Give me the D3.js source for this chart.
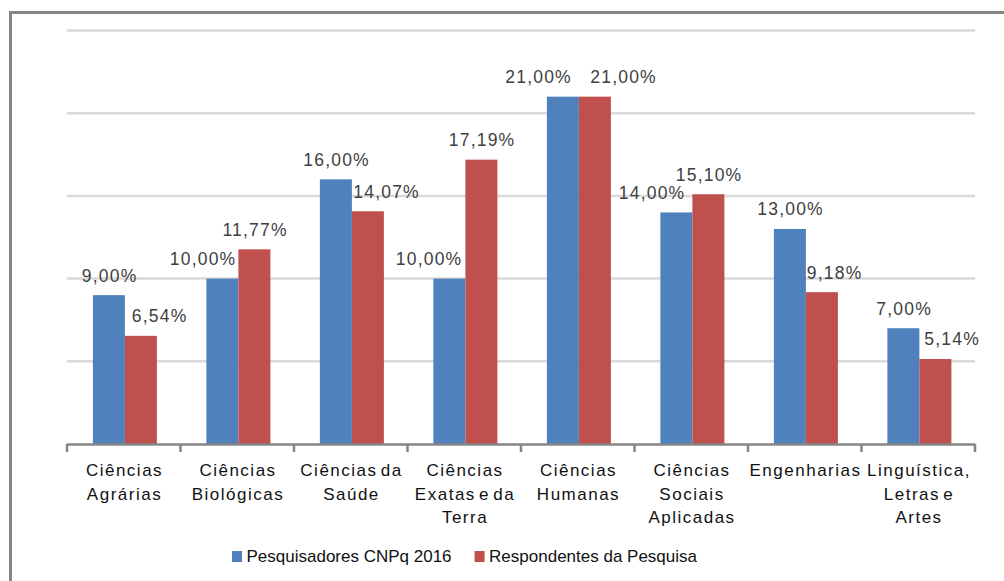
<!DOCTYPE html>
<meta charset="utf-8">
<head>
  <title>Pesquisadores por área</title>
  <style>
    body { margin: 0; background: #fff; }
    svg { display: block; font-family: "Liberation Sans", Arial, sans-serif; }
  </style>
</head>
<body>
<div id="my_dataviz"></div>
<script src="https://d3js.org/d3.v7.min.js"></script>
<script>

// data
var categories = [
  ["Ciências", "Agrárias"],
  ["Ciências", "Biológicas"],
  ["Ciências da", "Saúde"],
  ["Ciências", "Exatas e da", "Terra"],
  ["Ciências", "Humanas"],
  ["Ciências", "Sociais", "Aplicadas"],
  ["Engenharias"],
  ["Linguística,", "Letras e", "Artes"]
];
var seriesNames = ["Pesquisadores CNPq 2016", "Respondentes da Pesquisa"];
var pesquisadores = [9.00, 10.00, 16.00, 10.00, 21.00, 14.00, 13.00, 7.00];
var respondentes  = [6.54, 11.77, 14.07, 17.19, 21.00, 15.10, 9.18, 5.14];
var gridTicks = [5, 10, 15, 20, 25];

// label nudges (px) so labels don't collide, like in the original
var nudgeBlue = [0, -20, 0, -21, -25, -25, 0, 0];
var nudgeRed  = [18, 0, 18, 0, 28, 0, 12, 16];

var colors = ["#4f81bd", "#c0504d"];

var width = 1004, height = 581;
var plotLeft = 67, plotRight = 975, plotTop = 30.5, plotBottom = 444;

var svg = d3.select("#my_dataviz")
  .append("svg")
    .attr("width", width)
    .attr("height", height);

// outer frame
svg.append("rect")
    .attr("x", 10.5).attr("y", 12.5)
    .attr("width", 1010).attr("height", 600)
    .style("fill", "none")
    .style("stroke", "#868686")
    .style("stroke-width", "3px");

var keys = categories.map(function(d, i) { return i; });

var x = d3.scaleBand()
    .domain(keys)
    .range([plotLeft, plotRight])
    .padding(0);

var step = x.bandwidth();
var xs = d3.scaleBand()
    .domain([0, 1])
    .range([step * 0.228, step * 0.792]);

var y = d3.scaleLinear()
    .domain([0, 25])
    .range([plotBottom, plotTop]);

// gridlines
svg.append("g")
  .selectAll("line")
  .data(gridTicks)
  .enter().append("line")
    .attr("x1", plotLeft).attr("x2", plotRight)
    .attr("y1", function(d) { return y(d); })
    .attr("y2", function(d) { return y(d); })
    .style("stroke", "#d9d9d9")
    .style("stroke-width", "2.5px");

var rows = keys.map(function(i) {
  return [
    {cat: i, s: 0, v: pesquisadores[i], nudge: nudgeBlue[i]},
    {cat: i, s: 1, v: respondentes[i], nudge: nudgeRed[i]}
  ];
});
var flat = d3.merge(rows);

// bars
svg.append("g")
  .selectAll("rect")
  .data(flat)
  .enter().append("rect")
    .attr("x", function(d) { return x(d.cat) + xs(d.s); })
    .attr("width", xs.bandwidth())
    .attr("y", function(d) { return y(d.v); })
    .attr("height", function(d) { return y(0) - y(d.v); })
    .style("fill", function(d) { return colors[d.s]; });

// axis
svg.append("line")
    .attr("x1", plotLeft).attr("x2", plotRight)
    .attr("y1", plotBottom + 0.5).attr("y2", plotBottom + 0.5)
    .style("stroke", "#868686")
    .style("stroke-width", "2.5px");

svg.append("g")
  .selectAll("line")
  .data(d3.range(categories.length + 1))
  .enter().append("line")
    .attr("x1", function(d) { return plotLeft + d * step; })
    .attr("x2", function(d) { return plotLeft + d * step; })
    .attr("y1", plotBottom).attr("y2", plotBottom + 8)
    .style("stroke", "#868686")
    .style("stroke-width", "2.5px");

// value labels
var fmt = function(v) { return v.toFixed(2).replace(".", ",") + "%"; };
svg.append("g")
  .selectAll("text")
  .data(flat)
  .enter().append("text")
    .attr("x", function(d) { return x(d.cat) + xs(d.s) + xs.bandwidth() / 2 + d.nudge + 0.7; })
    .attr("y", function(d) { return y(d.v) - 13.5; })
    .attr("text-anchor", "middle")
    .style("font-size", "17.5px")
    .style("letter-spacing", "1.2px")
    .style("fill", "#404040")
    .text(function(d) { return fmt(d.v); });

// category labels
var catG = svg.append("g")
  .selectAll("text")
  .data(categories)
  .enter().append("text")
    .attr("text-anchor", "middle")
    .style("font-size", "17px")
    .style("letter-spacing", "1.5px")
    .style("word-spacing", "-3px")
    .style("fill", "#111");

catG.selectAll("tspan")
  .data(function(d, i) { return d.map(function(t) { return {t: t, i: i}; }); })
  .enter().append("tspan")
    .attr("x", function(d) { return x(d.i) + step / 2 + 0.75; })
    .attr("y", function(d, j) { return 476 + j * 23.5; })
    .text(function(d) { return d.t; });

// legend
var legend = svg.append("g");
var lx = 232;
seriesNames.forEach(function(name, i) {
  legend.append("rect")
      .attr("x", lx).attr("y", 551)
      .attr("width", 10).attr("height", 11)
      .style("fill", colors[i]);
  var t = legend.append("text")
      .attr("x", lx + 14.5).attr("y", 561.5)
      .style("font-size", "17px")
      .style("fill", "#111")
      .text(name);
  lx += 14.5 + t.node().getComputedTextLength() + 23;
});

</script>
</body>
</html>
